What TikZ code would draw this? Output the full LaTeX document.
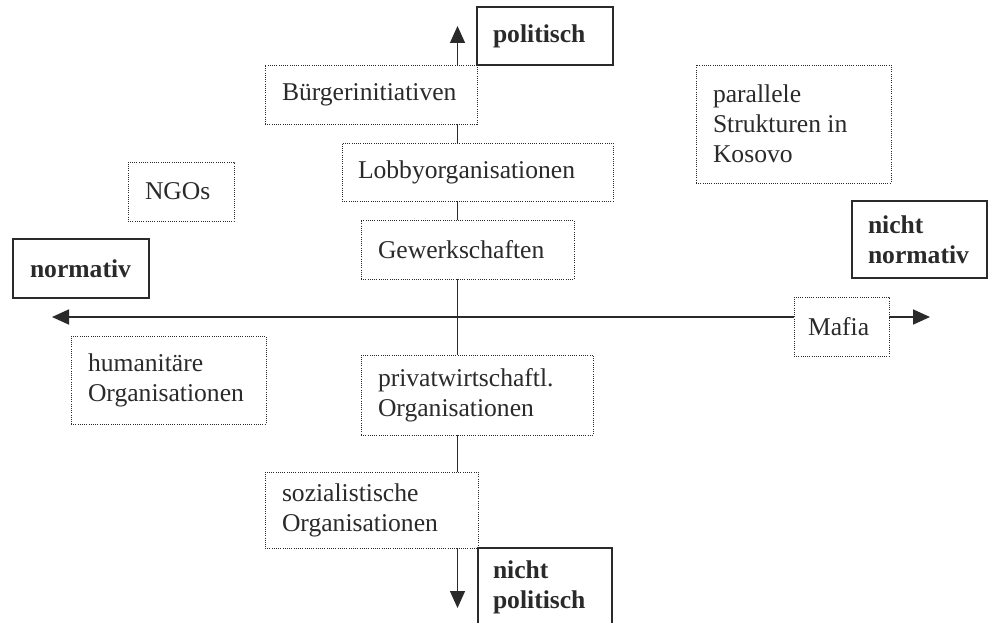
\documentclass[tikz,border=0pt]{standalone}
\usepackage{fontspec}
\setmainfont{Liberation Serif}
\usetikzlibrary{arrows.meta}
\definecolor{ink}{HTML}{2A2A2A}
\tikzset{
  dotbox/.style={draw=ink, line width=0.9pt, dash pattern=on 0.9pt off 1.3pt, fill=white,
    inner ysep=0pt, align=flush left, font=\fontsize{25.6}{30}\selectfont, text=ink},
  solidbox/.style={draw=ink, line width=1.5pt, fill=white,
    inner ysep=0pt, align=flush left, font=\bfseries\fontsize{25.6}{30}\selectfont, text=ink},
  axis/.style={draw=ink, -{Triangle[length=17pt,width=15pt]}},
}
% box: name, x1, y1, x2, y2, padding, style, text
\newcommand{\mybox}[8]{%
  \node[#7, minimum width={(#4-#2)*1pt}, minimum height={(#5-#3)*1pt},
        inner xsep=#6pt, text width={(#4-#2-2*#6)*1pt}]
        (#1) at ({(#2+#4)/2},{(#3+#5)/2}) {#8};}
\begin{document}
\begin{tikzpicture}[x=1pt,y=-1pt]
\path[use as bounding box, clip] (0,0) rectangle (992,623);
\fill[white] (0,0) rectangle (992,623);
\coordinate (c) at (457.5,317);
\coordinate (top) at (457.5,26);
\coordinate (bot) at (457.5,608);
\coordinate (left) at (52,317);
\coordinate (right) at (930,317);
\draw[axis, line width=1.3pt] (c) -- (top);
\draw[axis, line width=1.3pt] (c) -- (bot);
\draw[axis, line width=1.8pt] (c) -- (left);
\draw[axis, line width=1.8pt] (c) -- (right);
\mybox{burger}{265}{65}{477}{124}{17}{dotbox}{Bürgerinitiativen}
\mybox{lobby}{342}{143}{613}{201}{16}{dotbox}{Lobbyorganisationen}
\mybox{gewerk}{361}{220}{574}{279}{17}{dotbox}{Gewerkschaften}
\mybox{ngos}{128}{162}{234}{221}{17}{dotbox}{NGOs}
\mybox{human}{71}{336}{266}{424}{17}{dotbox}{humanitäre\\Organisationen}
\mybox{parallel}{696}{65}{891}{183}{17}{dotbox}{parallele\\Strukturen in\\Kosovo}
\mybox{mafia}{794}{297}{889}{356}{14}{dotbox}{Mafia}
\mybox{privat}{361}{355}{593}{435}{17}{dotbox}{privatwirtschaftl.\\Organisationen}
\mybox{sozial}{265}{472}{478}{548}{17}{dotbox}{sozialistische\\Organisationen}
\mybox{politisch}{477}{7}{613}{65}{16}{solidbox}{politisch}
\mybox{normativ}{13}{239}{149}{298}{17}{solidbox}{normativ}
\mybox{nichtnorm}{852}{201}{987}{278}{16}{solidbox}{nicht\\normativ}
\mybox{nichtpol}{478}{548}{612}{626}{15}{solidbox}{nicht\\politisch}
\end{tikzpicture}
\end{document}
